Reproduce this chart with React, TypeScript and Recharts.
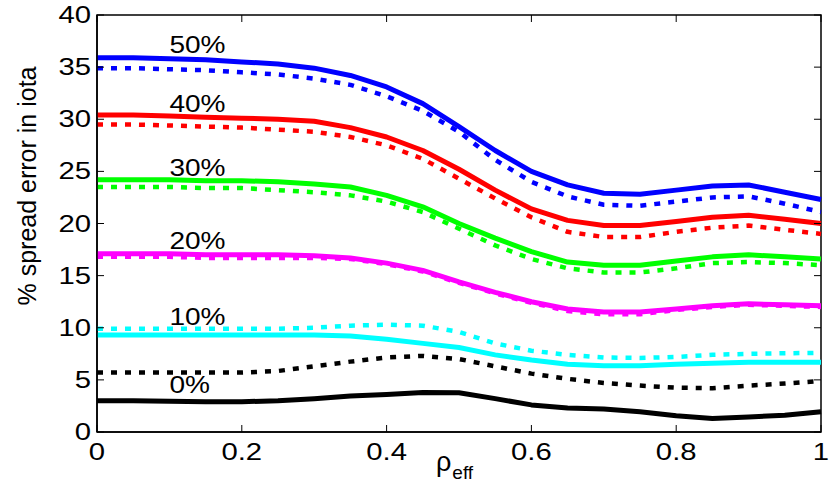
import React from 'react';
import {
  ComposedChart,
  Line,
  XAxis,
  YAxis,
  ReferenceArea,
  ReferenceDot,
} from 'recharts';

// rho_eff sample points
const rho = [0, 0.05, 0.1, 0.15, 0.2, 0.25, 0.3, 0.35, 0.4, 0.45, 0.5, 0.55, 0.6, 0.65, 0.7, 0.75, 0.8, 0.85, 0.9, 0.95, 1];

// solid / dotted pairs per spread level
const solid50 = [35.9, 35.9, 35.8, 35.7, 35.5, 35.3, 34.9, 34.2, 33.1, 31.5, 29.3, 27.0, 25.0, 23.7, 22.9, 22.8, 23.2, 23.6, 23.7, 23.0, 22.3];
const dot50 = [34.9, 34.9, 34.8, 34.7, 34.5, 34.3, 33.9, 33.3, 32.2, 30.8, 28.8, 26.1, 24.0, 22.6, 21.8, 21.7, 22.1, 22.5, 22.6, 21.9, 21.1];
const solid40 = [30.4, 30.4, 30.3, 30.2, 30.1, 30.0, 29.8, 29.2, 28.3, 27.0, 25.2, 23.2, 21.4, 20.3, 19.8, 19.8, 20.2, 20.6, 20.8, 20.4, 20.0];
const dot40 = [29.5, 29.5, 29.4, 29.3, 29.2, 29.0, 28.8, 28.3, 27.5, 26.2, 24.3, 22.4, 20.6, 19.2, 18.7, 18.7, 19.2, 19.6, 19.8, 19.4, 19.0];
const solid30 = [24.2, 24.2, 24.2, 24.1, 24.1, 24.0, 23.8, 23.5, 22.7, 21.6, 20.0, 18.6, 17.3, 16.3, 16.0, 16.0, 16.4, 16.8, 17.0, 16.8, 16.6];
const dot30 = [23.5, 23.5, 23.5, 23.4, 23.4, 23.2, 23.0, 22.7, 22.1, 21.1, 19.5, 17.9, 16.6, 15.7, 15.3, 15.3, 15.7, 16.2, 16.3, 16.2, 16.0];
const solid20 = [17.1, 17.1, 17.1, 17.0, 17.0, 17.0, 16.9, 16.7, 16.2, 15.5, 14.4, 13.4, 12.5, 11.8, 11.5, 11.5, 11.8, 12.1, 12.3, 12.2, 12.1];
const dot20 = [16.8, 16.8, 16.8, 16.7, 16.7, 16.7, 16.7, 16.6, 16.1, 15.4, 14.3, 13.3, 12.4, 11.6, 11.3, 11.3, 11.7, 12.0, 12.2, 12.1, 12.0];
const solid10 = [9.3, 9.3, 9.3, 9.3, 9.3, 9.3, 9.3, 9.2, 8.9, 8.5, 8.1, 7.4, 6.9, 6.5, 6.35, 6.35, 6.5, 6.6, 6.7, 6.7, 6.7];
const dot10 = [9.9, 9.9, 9.9, 9.9, 9.9, 9.9, 10.0, 10.2, 10.3, 10.2, 9.6, 8.5, 7.8, 7.4, 7.15, 7.1, 7.2, 7.4, 7.5, 7.55, 7.6];
const solid0 = [3.0, 3.0, 2.95, 2.9, 2.9, 3.0, 3.2, 3.45, 3.6, 3.8, 3.77, 3.2, 2.6, 2.3, 2.2, 1.95, 1.55, 1.3, 1.45, 1.6, 1.95];
const dot0 = [5.7, 5.7, 5.7, 5.7, 5.7, 5.85, 6.3, 6.75, 7.15, 7.3, 7.0, 6.3, 5.6, 5.1, 4.7, 4.45, 4.25, 4.2, 4.45, 4.65, 4.9];

const xTicks = [0, 0.2, 0.4, 0.6, 0.8, 1];
const yTicks = [0, 5, 10, 15, 20, 25, 30, 35, 40];

// curve labels (left edge x, baseline y)
const labelText = ['50%', '40%', '30%', '20%', '10%', '0%'];
const labelX = [0.1, 0.1, 0.1, 0.1, 0.1, 0.1];
const labelY = [36.4, 30.7, 24.6, 17.6, 10.3, 3.7];

const series = [
  { key: 's50', values: solid50, color: '#0000ff', dashed: false },
  { key: 'd50', values: dot50, color: '#0000ff', dashed: true },
  { key: 's40', values: solid40, color: '#ff0000', dashed: false },
  { key: 'd40', values: dot40, color: '#ff0000', dashed: true },
  { key: 's30', values: solid30, color: '#00ff00', dashed: false },
  { key: 'd30', values: dot30, color: '#00ff00', dashed: true },
  { key: 's20', values: solid20, color: '#ff00ff', dashed: false },
  { key: 'd20', values: dot20, color: '#ff00ff', dashed: true },
  { key: 's10', values: solid10, color: '#00ffff', dashed: false },
  { key: 'd10', values: dot10, color: '#00ffff', dashed: true },
  { key: 's0', values: solid0, color: '#000000', dashed: false },
  { key: 'd0', values: dot0, color: '#000000', dashed: true },
];

const data = rho.map((x, i) => {
  const row: Record<string, number> = { x };
  series.forEach((s) => {
    row[s.key] = s.values[i];
  });
  return row;
});

// draw dotted under solid
const drawOrder = [...series.filter((s) => s.dashed), ...series.filter((s) => !s.dashed)];

const W = 839;
const H = 486;
const LEFT = 97;
const RIGHT = 821;
const TOP = 15;
const BOTTOM = 432;
const FONT = 'Liberation Sans, Arial, Helvetica, sans-serif';
const STRETCH = 1.22;
const FS = 24;

const XTick = (props: any) => {
  const { x, payload } = props;
  return (
    <g>
      <line x1={x} y1={BOTTOM} x2={x} y2={BOTTOM - 7} stroke="#000" strokeWidth={1} />
      <line x1={x} y1={TOP} x2={x} y2={TOP + 7} stroke="#000" strokeWidth={1} />
      <text
        transform={`translate(${x},${BOTTOM + 28}) scale(${STRETCH},1)`}
        textAnchor="middle"
        fontFamily={FONT}
        fontSize={FS}
        fill="#000"
      >
        {String(payload.value)}
      </text>
    </g>
  );
};

const YTick = (props: any) => {
  const { y, payload } = props;
  return (
    <g>
      <line x1={LEFT} y1={y} x2={LEFT + 7} y2={y} stroke="#000" strokeWidth={1} />
      <line x1={RIGHT} y1={y} x2={RIGHT - 7} y2={y} stroke="#000" strokeWidth={1} />
      <text
        transform={`translate(${LEFT - 6},${y + 8}) scale(${STRETCH},1)`}
        textAnchor="end"
        fontFamily={FONT}
        fontSize={FS}
        fill="#000"
      >
        {String(payload.value)}
      </text>
    </g>
  );
};

const CurveLabel = (text: string) => (p: any) => (
  <text
    transform={`translate(${p.cx},${p.cy}) scale(${STRETCH},1)`}
    fontFamily={FONT}
    fontSize={23}
    fill="#000"
  >
    {text}
  </text>
);

const App = () => {
  return (
    <div style={{ position: 'absolute', left: 0, top: 0, width: W, height: H, background: '#fff' }}>
      <ComposedChart
        width={W}
        height={H}
        data={data}
        margin={{ top: TOP, right: W - RIGHT, bottom: 0, left: 0 }}
      >
        <XAxis
          dataKey="x"
          type="number"
          domain={[0, 1]}
          ticks={xTicks}
          height={H - BOTTOM}
          tickLine={false}
          axisLine={{ stroke: '#000', strokeWidth: 1.5 }}
          tick={<XTick />}
          interval={0}
        />
        <YAxis
          type="number"
          domain={[0, 40]}
          ticks={yTicks}
          width={LEFT}
          tickLine={false}
          axisLine={{ stroke: '#000', strokeWidth: 1.5 }}
          tick={<YTick />}
          interval={0}
        />
        {drawOrder.map((s) => (
          <Line
            key={s.key}
            dataKey={s.key}
            type="linear"
            stroke={s.color}
            strokeWidth={s.dashed ? 4.5 : 5}
            strokeDasharray={s.dashed ? '6 8' : undefined}
            strokeLinejoin="round"
            dot={false}
            activeDot={false}
            isAnimationActive={false}
          />
        ))}
        <ReferenceArea
          x1={0}
          x2={1}
          y1={0}
          y2={40}
          fill="none"
          fillOpacity={0}
          stroke="#000"
          strokeWidth={1.5}
          ifOverflow="visible"
        />
        {labelText.map((t, i) => (
          <ReferenceDot
            key={t}
            x={labelX[i]}
            y={labelY[i]}
            r={1}
            ifOverflow="visible"
            shape={CurveLabel(t)}
          />
        ))}
      </ComposedChart>
      <svg
        width={W}
        height={H}
        style={{ position: 'absolute', left: 0, top: 0, pointerEvents: 'none' }}
      >
        <text
          transform={`translate(36,186) rotate(-90)`}
          textAnchor="middle"
          fontFamily={FONT}
          fontSize={25}
          fill="#000"
        >
          % spread error in iota
        </text>
        <text x={436} y={471} fontFamily={FONT} fontSize={27} fill="#000">
          ρ
          <tspan dx={1} dy={8} fontSize={19}>
            eff
          </tspan>
        </text>
      </svg>
    </div>
  );
};

export default App;
